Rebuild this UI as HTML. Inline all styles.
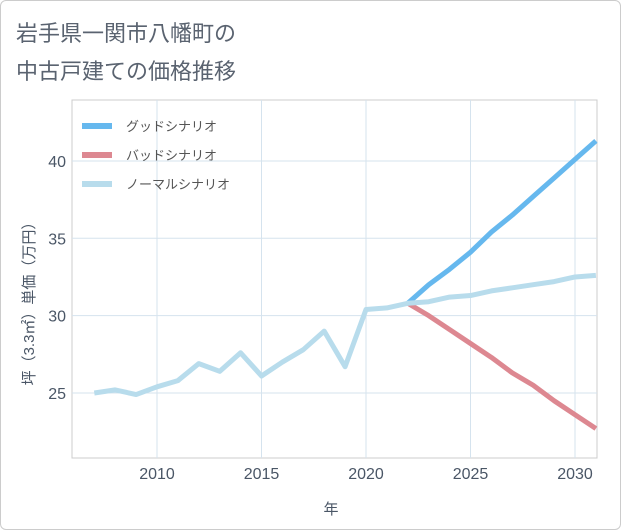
<!DOCTYPE html>
<html><head><meta charset="utf-8"><style>
body{margin:0;background:#fff;font-family:"Liberation Sans","Noto Sans CJK JP",sans-serif;}
#wrap{position:relative;width:619px;height:528px;border:1px solid #ccc;border-radius:6px;background:#fff;}
svg text{font-family:"Liberation Sans","Noto Sans CJK JP",sans-serif;}
</style></head><body>
<div id="wrap">
<svg id="chart" width="621" height="530" style="position:absolute;left:-1px;top:-1px">
<text x="16" y="41" font-size="22" fill="#5a6370">岩手県一関市八幡町の</text>
<text x="16" y="79" font-size="22" fill="#5a6370">中古戸建ての価格推移</text>
<g id="grid"></g><g id="series"></g><g id="legend"></g>
<text x="331" y="514" font-size="15" fill="#4a5666" text-anchor="middle">年</text>
<text transform="translate(34,300) rotate(-90)" font-size="15" fill="#4a5666" text-anchor="middle">坪（3.3㎡）単価（万円）</text>
</svg></div>
<script>
const years=[2007,2008,2009,2010,2011,2012,2013,2014,2015,2016,2017,2018,2019,2020,2021,2022,2023,2024,2025,2026,2027,2028,2029,2030,2031];
const normalValues=[25.0,25.2,24.9,25.4,25.8,26.9,26.4,27.6,26.1,27.0,27.8,29.0,26.7,30.4,30.5,30.8,30.9,31.2,31.3,31.6,31.8,32.0,32.2,32.5,32.6];
const scenarioYears=[2022,2023,2024,2025,2026,2027,2028,2029,2030,2031];
const goodValues=[30.8,32.0,33.0,34.1,35.4,36.5,37.7,38.9,40.1,41.3];
const badValues=[30.8,30.0,29.1,28.2,27.3,26.3,25.5,24.5,23.6,22.7];
const xTicks=[2010,2015,2020,2025,2030];
const yTicks=[25,30,35,40];
const legendLabels=["グッドシナリオ","バッドシナリオ","ノーマルシナリオ"];
const NS="http://www.w3.org/2000/svg";
const L=72,R=597,T=100,B=458;
const x=v=>157+(v-2010)*20.9;
const y=v=>393+(25-v)*15.47;
function mk(t,a,p){const e=document.createElementNS(NS,t);for(const k in a)e.setAttribute(k,a[k]);p.appendChild(e);return e;}
const g=document.getElementById('grid');
const frame=mk('rect',{x:L,y:T,width:R-L,height:B-T,fill:'none',stroke:'#ccc'},g);


xTicks.forEach(t=>{
 const l=mk('line',{x1:x(t),x2:x(t),y1:T,y2:B,stroke:'#d5e3ee'},g);
 
 
 const tx=mk('text',{x:x(t),y:B+21,'font-size':16,fill:'#4a5666','text-anchor':'middle'},g);tx.textContent=t;
 
 
});
yTicks.forEach(t=>{
 const l=mk('line',{x1:L,x2:R,y1:y(t),y2:y(t),stroke:'#d5e3ee'},g);
 
 
 const tx=mk('text',{x:L-6,y:y(t)+6,'font-size':16,fill:'#4a5666','text-anchor':'end'},g);tx.textContent=t;
 
 
});
const s=document.getElementById('series');
function line(xs,vs,c,name){
 const p=mk('polyline',{points:xs.map((v,i)=>x(v)+','+y(vs[i])).join(' '),fill:'none',stroke:c,'stroke-width':5,'stroke-linejoin':'round'},s);
 
 
}
line(scenarioYears,goodValues,'#66b8ee','good-scenario-line');
line(scenarioYears,badValues,'#dd8891','bad-scenario-line');
line(years,normalValues,'#b8dcec','normal-scenario-line');
const lg=document.getElementById('legend');
const cols=['#66b8ee','#dd8891','#b8dcec'];
legendLabels.forEach((t,i)=>{
 const yy=126+i*29;
 const r=mk('rect',{x:82,y:yy-3,width:30,height:6,fill:cols[i]},lg);
 
 
 const tx=mk('text',{x:126,y:yy+5,'font-size':13,fill:'#555'},lg);tx.textContent=t;
 
 
});
</script>
</body></html>
